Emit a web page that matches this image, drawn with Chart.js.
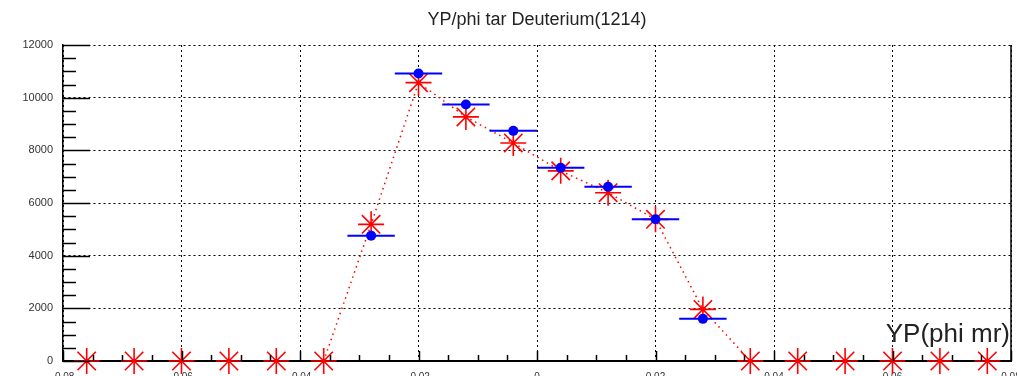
<!DOCTYPE html>
<html>
<head>
<meta charset="utf-8">
<script src="https://cdn.jsdelivr.net/npm/chart.js@4.4.1/dist/chart.umd.min.js"></script>
<style>
  html, body { margin: 0; padding: 0; background: #fff; overflow: hidden; }
  #wrap { width: 1017px; height: 376px; overflow: hidden; }
</style>
</head>
<body>
<div id="wrap"><canvas id="myChart" width="1017" height="392"></canvas></div>
<script>
// bin centres of YP (bin width 0.008)
var binCenters = [-0.076, -0.068, -0.060, -0.052, -0.044, -0.036, -0.028, -0.020, -0.012, -0.004,
                  0.004, 0.012, 0.020, 0.028, 0.036, 0.044, 0.052, 0.060, 0.068, 0.076];
var binWidth = 0.008;
// red stars (dotted line)
var redCounts = [0, 0, 0, 0, 0, 0, 5190, 10570, 9270, 8280, 7220, 6390, 5380, 1960, 0, 0, 0, 0, 0, 0];
// blue points with horizontal bin bars
var blueCounts = [null, null, null, null, null, null, 4760, 10920, 9740, 8740, 7340, 6620, 5380, 1600,
                  null, null, null, null, null, null];
var xTicks = [-0.08, -0.06, -0.04, -0.02, 0, 0.02, 0.04, 0.06, 0.08];

var chartTitle = 'YP/phi tar Deuterium(1214)';
var xTitle = 'YP(phi mr)';

function toPoints(vals) {
  return binCenters.map(function (x, i) { return { x: x, y: vals[i] }; });
}

var rootStyle = {
  id: 'rootStyle',
  afterDatasetsDraw: function (chart) {
    var ctx = chart.ctx;
    var xs = chart.scales.x, ys = chart.scales.y;
    var a = chart.chartArea;
    ctx.save();

    // blue bin-width bars
    ctx.strokeStyle = '#0000ff';
    ctx.lineWidth = 2;
    blueCounts.forEach(function (v, i) {
      if (v === null) return;
      var py = ys.getPixelForValue(v);
      ctx.beginPath();
      ctx.moveTo(xs.getPixelForValue(binCenters[i] - binWidth / 2), py);
      ctx.lineTo(xs.getPixelForValue(binCenters[i] + binWidth / 2), py);
      ctx.stroke();
    });

    // right frame line
    ctx.strokeStyle = '#000';
    ctx.lineWidth = 1.5;
    ctx.beginPath();
    ctx.moveTo(a.right, a.top);
    ctx.lineTo(a.right, a.bottom);
    ctx.stroke();

    // inward ticks, y axis
    for (var v = 0; v <= 12000; v += 500) {
      var py = Math.round(ys.getPixelForValue(v)) + 0.5;
      var len = (v % 2000 === 0) ? 27 : 13;
      ctx.beginPath();
      ctx.moveTo(a.left, py);
      ctx.lineTo(a.left + len, py);
      ctx.stroke();
    }
    // inward ticks, x axis
    for (var k = 0; k <= 32; k++) {
      var xv = -0.08 + k * 0.005;
      var px = Math.round(xs.getPixelForValue(xv)) + 0.5;
      var l = (k % 4 === 0) ? 10 : 6;
      ctx.beginPath();
      ctx.moveTo(px, a.bottom);
      ctx.lineTo(px, a.bottom - l);
      ctx.stroke();
    }

    // x axis title inside the frame
    ctx.fillStyle = '#222';
    ctx.font = '26px "Liberation Sans", Arial, sans-serif';
    ctx.textAlign = 'right';
    ctx.textBaseline = 'alphabetic';
    ctx.fillText(xTitle, a.right - 1, 342);

    // title centred on the frame
    ctx.font = '18px "Liberation Sans", Arial, sans-serif';
    ctx.textAlign = 'center';
    ctx.textBaseline = 'middle';
    ctx.fillText(chartTitle, (a.left + a.right) / 2, 20);
    ctx.restore();
  }
};

var ctx = document.getElementById('myChart').getContext('2d');
var myChart = new Chart(ctx, {
  type: 'line',
  data: {
    datasets: [{
      label: 'blue',
      data: toPoints(blueCounts),
      showLine: false,
      pointStyle: 'circle',
      pointRadius: 5,
      pointBackgroundColor: '#0000ff',
      pointBorderColor: '#0000ff',
      pointBorderWidth: 0,
      clip: false,
      order: 0
    }, {
      label: 'red',
      data: toPoints(redCounts),
      showLine: true,
      borderColor: '#ff0000',
      borderWidth: 1.5,
      borderDash: [1.5, 4],
      pointStyle: 'star',
      pointRadius: 13,
      pointBorderColor: '#ff0000',
      pointBorderWidth: 1.6,
      clip: false,
      order: 1,
      segment: {
        borderColor: function (c) {
          return (c.p0.parsed.y === 0 && c.p1.parsed.y === 0) ? 'rgba(0,0,0,0)' : undefined;
        }
      }
    }]
  },
  options: {
    responsive: false,
    animation: false,
    devicePixelRatio: 1,
    layout: { autoPadding: false, padding: { top: 45, right: 6, left: 0, bottom: 0 } },
    plugins: {
      legend: { display: false },
      title: { display: false },
      tooltip: { enabled: false }
    },
    scales: {
      x: {
        type: 'linear',
        min: -0.08,
        max: 0.08,
        afterBuildTicks: function (s) { s.ticks = xTicks.map(function (v) { return { value: v }; }); },
        afterFit: function (s) { s.height = 31; s.paddingLeft = 0; s.paddingRight = 0; },
        ticks: {
          autoSkip: false,
          maxRotation: 0,
          padding: 10,
          color: '#333',
          font: { family: '"Liberation Sans", Arial, sans-serif', size: 10 },
          callback: function (v) { return Math.abs(v) < 1e-9 ? '0' : v.toFixed(2); }
        },
        grid: { color: '#000', lineWidth: 1, drawTicks: false },
        border: { display: true, color: '#000', width: 2, dash: [2, 3] }
      },
      y: {
        min: 0,
        max: 12000,
        afterFit: function (s) { s.width = 63; s.paddingTop = 0; s.paddingBottom = 0; },
        ticks: {
          stepSize: 2000,
          padding: 10,
          color: '#333',
          font: { family: '"Liberation Sans", Arial, sans-serif', size: 11 },
          callback: function (v) { return String(v); }
        },
        grid: { color: '#000', lineWidth: 1, drawTicks: false },
        border: { display: true, color: '#000', width: 1.5, dash: [2, 3] }
      }
    }
  },
  plugins: [rootStyle]
});
</script>
</body>
</html>
